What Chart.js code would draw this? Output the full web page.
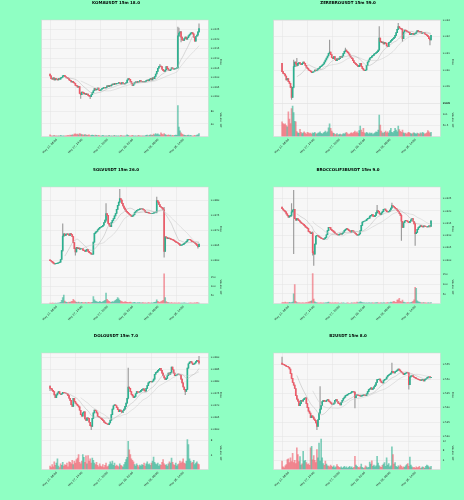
<!DOCTYPE html>
<html>
<head>
<meta charset="utf-8">
<script src="https://cdn.jsdelivr.net/npm/chart.js@4/dist/chart.umd.min.js"></script>
<style>
  body { margin: 0; width: 464px; height: 500px; background: #8fffc3; position: relative; overflow: hidden; }
  canvas { position: absolute; }
</style>
</head>
<body>
<script>
// x axis: candle index of each labelled tick and its text
const xTickIdx = [0, 24, 48, 72, 96, 120];
const xTickLabels = ['May 27, 08:00', 'May 27, 14:00', 'May 27, 20:00', 'May 28, 02:00', 'May 28, 08:00', 'May 28, 14:00'];

// ---- KOMAUSDT ----
const komaOpen0 = 0.02018;
const komaClose = [
  0.02008,0.01994,0.01991,0.01998,0.01987,0.01994,0.01991,0.01987,
  0.01994,0.01991,0.01998,0.02001,0.02008,0.02011,0.02005,0.02001,
  0.01998,0.01994,0.01987,0.01984,0.01977,0.01980,0.01973,0.01970,
  0.01959,0.01956,0.01949,0.01952,0.01917,0.01910,0.01924,0.01921,
  0.01914,0.01917,0.01910,0.01914,0.01907,0.01903,0.01900,0.01910,
  0.01921,0.01931,0.01942,0.01935,0.01938,0.01945,0.01935,0.01931,
  0.01938,0.01942,0.01945,0.01949,0.01945,0.01949,0.01956,0.01952,
  0.01959,0.01956,0.01961,0.01966,0.01963,0.01970,0.01966,0.01970,
  0.01970,0.01973,0.01970,0.01966,0.01973,0.01970,0.01966,0.01970,
  0.01973,0.01987,0.01994,0.01991,0.01980,0.01970,0.01959,0.01966,
  0.01973,0.01977,0.01973,0.01980,0.01977,0.01984,0.01980,0.01977,
  0.01980,0.01977,0.01980,0.01984,0.01987,0.01984,0.01991,0.01994,
  0.01987,0.01998,0.01994,0.02005,0.02018,0.02032,0.02048,0.02057,
  0.02060,0.02057,0.02043,0.02036,0.02032,0.02039,0.02057,0.02046,
  0.02039,0.02036,0.02043,0.02050,0.02046,0.02043,0.02046,0.02048,
  0.02050,0.02217,0.02231,0.02238,0.02210,0.02196,0.02193,0.02203,
  0.02210,0.02200,0.02207,0.02217,0.02224,0.02231,0.02234,0.02227,
  0.02210,0.02189,0.02214,0.02221,0.02238,0.02255
];
const komaVolume = [
  6,3,2,3,4,2,3,2,3,2,4,3,2,3,2,3,
  3,4,3,5,4,6,5,8,9,7,8,6,10,8,7,6,
  5,7,6,4,5,6,3,4,5,4,3,5,4,3,4,3,
  2,3,4,3,2,3,2,3,4,2,3,2,3,4,2,3,
  2,3,2,4,3,2,3,2,3,6,4,3,2,3,4,3,
  2,3,2,3,4,2,3,2,3,2,3,4,5,3,4,6,
  5,4,8,6,10,7,9,6,5,12,8,6,10,7,5,4,
  6,4,5,3,4,3,4,5,4,97,30,18,12,8,6,5,
  4,3,4,5,3,4,3,2,3,4,3,5,6,10
];
// [candle index, high, low] for the visible wicks
const komaWicks = [[29,0.01920,0.01891],[38,0.01905,0.01890],[104,0.02068,0.02055],[121,0.02262,0.02048],
  [122,0.02257,0.02212],[124,0.02240,0.02185],[141,0.02279,0.02236]];

// ---- ZEREBROUSDT ----
const zereOpen0 = 0.03018;
const zereClose = [
  0.02968,0.02958,0.02954,0.02942,0.02918,0.02926,0.02908,0.02898,
  0.02874,0.02814,0.02874,0.02998,0.03026,0.03014,0.03006,0.03018,
  0.03022,0.03014,0.03010,0.03018,0.03026,0.03018,0.03006,0.02994,
  0.02986,0.02978,0.02974,0.02970,0.02962,0.02966,0.02970,0.02978,
  0.02974,0.02978,0.02986,0.02990,0.02998,0.03002,0.03008,0.03014,
  0.03026,0.03038,0.03050,0.03062,0.03078,0.03086,0.03070,0.03054,
  0.03046,0.03058,0.03042,0.03034,0.03046,0.03042,0.03046,0.03058,
  0.03054,0.03062,0.03078,0.03090,0.03098,0.03090,0.03082,0.03074,
  0.03062,0.03054,0.03046,0.03034,0.03022,0.03018,0.03010,0.03006,
  0.02998,0.03006,0.03018,0.02998,0.02986,0.02978,0.02974,0.02978,
  0.03006,0.03026,0.03038,0.03050,0.03054,0.03062,0.03066,0.03074,
  0.03078,0.03082,0.03088,0.03098,0.03170,0.03150,0.03142,0.03146,
  0.03134,0.03142,0.03138,0.03122,0.03118,0.03142,0.03146,0.03154,
  0.03162,0.03166,0.03174,0.03186,0.03202,0.03222,0.03238,0.03230,
  0.03226,0.03222,0.03166,0.03206,0.03218,0.03214,0.03210,0.03206,
  0.03202,0.03190,0.03194,0.03198,0.03192,0.03194,0.03198,0.03206,
  0.03214,0.03210,0.03206,0.03208,0.03198,0.03202,0.03204,0.03194,
  0.03190,0.03186,0.03178,0.03166,0.03158,0.03186
];
const zereVolume = [
  68,60,55,58,50,45,113,80,60,128,139,110,70,68,23,18,
  15,33,20,14,18,22,16,12,20,18,14,16,12,18,15,20,
  14,12,16,18,22,15,12,16,20,25,18,22,40,58,38,25,
  18,15,12,10,14,8,10,12,8,10,14,12,16,20,14,10,
  12,16,18,14,20,25,18,22,15,28,48,30,20,38,18,14,
  20,16,12,18,14,16,10,14,18,22,20,30,98,53,25,18,
  15,20,25,18,22,16,28,38,20,18,24,38,30,22,48,32,
  24,20,30,18,14,16,12,18,20,16,14,12,16,18,14,12,
  16,14,12,18,14,20,16,12,14,18,28,22,16,20
];
const zereWicks = [[9,0.02880,0.02802],[11,0.03038,0.02870],[14,0.03048,0.03000],[45,0.03158,0.03076],
  [60,0.03110,0.03088],[92,0.03238,0.03095],[110,0.03258,0.03220],[114,0.03226,0.03150],[140,0.03168,0.03128]];

// ---- SOLVUSDT ----
const solvOpen0 = 0.03602;
const solvClose = [
  0.03599,0.03597,0.03594,0.03591,0.03588,0.03589,0.03590,0.03591,
  0.03592,0.03594,0.03603,0.03633,0.03681,0.03688,0.03683,0.03687,
  0.03688,0.03686,0.03683,0.03689,0.03686,0.03679,0.03659,0.03639,
  0.03628,0.03643,0.03639,0.03641,0.03637,0.03639,0.03640,0.03634,
  0.03632,0.03630,0.03634,0.03637,0.03630,0.03626,0.03624,0.03621,
  0.03621,0.03661,0.03690,0.03694,0.03697,0.03702,0.03706,0.03710,
  0.03711,0.03713,0.03717,0.03726,0.03734,0.03756,0.03750,0.03723,
  0.03717,0.03712,0.03726,0.03733,0.03739,0.03748,0.03756,0.03770,
  0.03783,0.03794,0.03806,0.03801,0.03790,0.03781,0.03774,0.03768,
  0.03763,0.03760,0.03756,0.03753,0.03750,0.03746,0.03748,0.03752,
  0.03759,0.03763,0.03767,0.03768,0.03769,0.03772,0.03771,0.03772,
  0.03770,0.03767,0.03761,0.03759,0.03760,0.03758,0.03757,0.03756,
  0.03756,0.03757,0.03758,0.03760,0.03761,0.03799,0.03794,0.03786,
  0.03779,0.03777,0.03774,0.03768,0.03630,0.03678,0.03677,0.03672,
  0.03674,0.03673,0.03671,0.03670,0.03668,0.03666,0.03663,0.03661,
  0.03659,0.03657,0.03654,0.03650,0.03651,0.03652,0.03654,0.03657,
  0.03660,0.03663,0.03668,0.03670,0.03669,0.03667,0.03663,0.03662,
  0.03660,0.03657,0.03654,0.03650,0.03646,0.03654
];
const solvVolume = [
  3,2,4,3,2,3,2,4,3,5,8,20,35,49,15,10,
  8,6,10,8,12,14,25,18,12,8,6,10,7,5,8,6,
  5,7,6,4,8,6,5,7,8,41,22,15,12,10,8,14,
  10,8,12,15,20,61,25,18,14,10,8,12,10,15,20,25,
  35,28,20,15,12,10,8,12,10,8,6,8,10,7,5,6,
  8,5,4,6,5,7,4,5,6,4,5,3,4,6,5,4,
  5,4,6,8,10,22,14,10,8,12,15,20,172,35,12,8,
  6,5,4,6,3,4,5,3,4,3,5,4,3,4,3,5,
  4,3,2,4,3,5,3,4,3,5,4,6,5,4
];
const solvWicks = [[12,0.03722,0.03630],[24,0.03640,0.03617],[53,0.03789,0.03730],[66,0.03837,0.03792],
  [101,0.03811,0.03758],[108,0.03777,0.03611],[140,0.03652,0.03641]];

// ---- BROCCOLIF3BUSDT ----
const brocOpen0 = 0.03216;
const brocClose = [
  0.03209,0.03204,0.03200,0.03196,0.03188,0.03182,0.03175,0.03179,
  0.03182,0.03196,0.03204,0.03207,0.03169,0.03162,0.03169,0.03164,
  0.03160,0.03155,0.03151,0.03148,0.03145,0.03140,0.03135,0.03132,
  0.03128,0.03117,0.03114,0.03107,0.03111,0.03030,0.03024,0.03065,
  0.03098,0.03101,0.03098,0.03094,0.03091,0.03088,0.03087,0.03084,
  0.03087,0.03092,0.03103,0.03120,0.03133,0.03132,0.03125,0.03121,
  0.03118,0.03114,0.03109,0.03106,0.03103,0.03101,0.03105,0.03107,
  0.03105,0.03109,0.03114,0.03121,0.03125,0.03128,0.03125,0.03121,
  0.03118,0.03114,0.03120,0.03118,0.03113,0.03109,0.03105,0.03101,
  0.03102,0.03106,0.03120,0.03141,0.03155,0.03158,0.03159,0.03160,
  0.03166,0.03170,0.03171,0.03179,0.03182,0.03185,0.03179,0.03177,
  0.03182,0.03193,0.03201,0.03198,0.03190,0.03185,0.03192,0.03197,
  0.03207,0.03208,0.03202,0.03197,0.03196,0.03198,0.03204,0.03212,
  0.03222,0.03219,0.03215,0.03211,0.03208,0.03202,0.03197,0.03190,
  0.03182,0.03158,0.03133,0.03152,0.03159,0.03162,0.03159,0.03155,
  0.03152,0.03158,0.03164,0.03169,0.03158,0.03147,0.03107,0.03113,
  0.03125,0.03132,0.03136,0.03140,0.03137,0.03135,0.03139,0.03137,
  0.03136,0.03135,0.03137,0.03139,0.03137,0.03160
];
const brocVolume = [
  5,6,4,8,5,6,4,7,5,6,8,50,97,12,6,5,
  4,5,3,4,5,3,4,6,5,8,10,12,14,153,24,10,
  6,5,4,3,4,5,3,4,3,5,4,6,8,5,4,3,
  4,3,5,4,3,4,3,2,4,3,4,3,2,3,4,3,
  2,3,4,3,5,4,3,8,5,6,10,8,6,4,5,3,
  4,3,5,4,3,4,5,3,4,5,6,4,3,5,4,3,
  4,5,3,4,6,5,4,8,6,10,12,8,7,18,20,27,
  12,10,18,8,6,5,4,6,5,4,6,8,12,20,84,79,
  15,10,8,6,5,4,6,5,4,3,5,4,3,6
];
const brocWicks = [[9,0.03230,0.03178],[11,0.03284,0.03026],[29,0.03115,0.03020],[30,0.03035,0.02978],
  [90,0.03223,0.03190],[104,0.03232,0.03210],[113,0.03185,0.03080],[126,0.03150,0.03060]];

// ---- DOLOUSDT ----
const doloOpen0 = 0.06778;
const doloClose = [
  0.06769,0.06767,0.06761,0.06756,0.06742,0.06731,0.06742,0.06750,
  0.06756,0.06747,0.06744,0.06747,0.06753,0.06751,0.06750,0.06749,
  0.06746,0.06739,0.06728,0.06719,0.06701,0.06694,0.06728,0.06715,
  0.06708,0.06703,0.06697,0.06692,0.06678,0.06660,0.06653,0.06667,
  0.06672,0.06642,0.06636,0.06647,0.06644,0.06628,0.06614,0.06611,
  0.06644,0.06667,0.06679,0.06676,0.06667,0.06653,0.06650,0.06647,
  0.06644,0.06639,0.06635,0.06629,0.06625,0.06622,0.06621,0.06618,
  0.06625,0.06636,0.06660,0.06683,0.06697,0.06701,0.06697,0.06689,
  0.06681,0.06672,0.06679,0.06675,0.06669,0.06676,0.06683,0.06694,
  0.06708,0.06728,0.06775,0.06769,0.06756,0.06744,0.06738,0.06731,
  0.06736,0.06747,0.06756,0.06754,0.06753,0.06756,0.06761,0.06765,
  0.06767,0.06761,0.06758,0.06769,0.06781,0.06792,0.06797,0.06799,
  0.06796,0.06800,0.06808,0.06828,0.06835,0.06838,0.06844,0.06849,
  0.06853,0.06844,0.06833,0.06822,0.06813,0.06806,0.06811,0.06822,
  0.06833,0.06829,0.06836,0.06858,0.06847,0.06833,0.06822,0.06824,
  0.06826,0.06829,0.06828,0.06825,0.06808,0.06792,0.06775,0.06764,
  0.06757,0.06765,0.06854,0.06872,0.06879,0.06881,0.06875,0.06869,
  0.06871,0.06875,0.06881,0.06886,0.06883,0.06875
];
const doloVolume = [
  1.0,0.6,1.4,0.8,2.2,1.2,1.8,3.0,1.0,0.6,1.6,1.2,2.0,1.0,1.4,1.2,
  1.8,0.8,2.2,2.0,1.6,2.6,1.4,2.4,1.8,2.8,3.2,4.2,2.0,1.6,2.4,4.2,
  3.4,2.0,3.8,1.6,3.9,2.4,3.0,1.8,3.2,2.6,1.8,1.4,2.0,1.2,0.8,1.6,
  1.0,0.8,1.4,0.6,1.2,1.8,0.8,1.0,1.4,2.2,1.6,2.4,1.2,1.8,0.9,1.3,
  1.0,0.8,1.6,1.2,1.0,0.7,1.4,2.0,2.8,3.4,7.8,5.5,4.2,3.0,2.6,2.2,
  1.4,1.0,1.6,1.2,0.8,1.3,1.0,1.4,1.2,1.8,1.0,1.6,2.2,1.4,1.6,1.2,
  1.8,2.4,3.5,2.0,1.6,1.4,1.8,1.0,1.4,1.2,2.0,2.8,1.6,1.2,1.4,1.0,
  1.6,2.2,1.8,3.2,2.0,1.4,1.2,1.8,1.0,1.4,1.6,2.4,1.8,2.2,3.0,1.8,
  1.6,2.4,8.3,6.9,3.0,2.4,1.8,2.0,2.6,1.4,1.8,2.2,1.6,1.4
];
const doloWicks = [[0,0.06781,0.06760],[39,0.06616,0.06597],[74,0.06854,0.06725],[128,0.06765,0.06743],[141,0.06903,0.06870]];

// ---- B2USDT ----
const b2Open0 = 0.5556;
const b2Close = [
  0.5552,0.5551,0.5549,0.5547,0.5544,0.5543,0.5541,0.5535,
  0.5519,0.5502,0.5488,0.5479,0.5467,0.5442,0.5430,0.5423,
  0.5407,0.5414,0.5426,0.5423,0.5428,0.5433,0.5434,0.5414,
  0.5400,0.5388,0.5381,0.5365,0.5372,0.5367,0.5360,0.5356,
  0.5347,0.5335,0.5358,0.5381,0.5395,0.5407,0.5421,0.5426,
  0.5423,0.5422,0.5426,0.5428,0.5423,0.5420,0.5416,0.5412,
  0.5412,0.5416,0.5426,0.5428,0.5422,0.5416,0.5414,0.5410,
  0.5419,0.5426,0.5433,0.5437,0.5442,0.5444,0.5447,0.5449,
  0.5450,0.5452,0.5456,0.5456,0.5454,0.5435,0.5444,0.5445,
  0.5443,0.5442,0.5440,0.5441,0.5443,0.5445,0.5444,0.5442,
  0.5448,0.5456,0.5463,0.5466,0.5469,0.5464,0.5467,0.5473,
  0.5479,0.5488,0.5498,0.5499,0.5500,0.5493,0.5488,0.5486,
  0.5495,0.5499,0.5500,0.5507,0.5512,0.5515,0.5517,0.5521,
  0.5527,0.5523,0.5521,0.5526,0.5528,0.5531,0.5535,0.5531,
  0.5527,0.5523,0.5520,0.5515,0.5519,0.5521,0.5523,0.5521,
  0.5480,0.5507,0.5511,0.5512,0.5508,0.5506,0.5504,0.5501,
  0.5500,0.5498,0.5497,0.5495,0.5497,0.5498,0.5493,0.5498,
  0.5501,0.5504,0.5507,0.5509,0.5505,0.5506
];
const b2Volume = [
  3.6,1.2,0.8,1.6,2.2,4.3,4.6,3.0,5.0,3.4,6.9,3.0,4.0,2.6,9.2,6.4,
  3.4,5.5,2.0,2.5,7.8,3.6,4.0,3.0,2.2,2.5,1.8,9.2,9.9,4.2,6.0,4.0,
  3.0,8.5,5.0,11.3,3.6,13.0,5.0,2.6,1.8,3.6,2.4,1.6,1.5,1.2,2.0,1.4,
  1.0,1.6,0.8,1.2,2.2,1.4,1.0,0.8,1.2,0.6,1.0,1.4,0.8,1.2,0.6,1.0,
  1.4,0.8,1.2,0.6,1.0,5.7,2.0,1.4,1.0,0.8,1.2,2.4,1.0,0.6,0.8,1.6,
  1.2,0.8,1.0,3.2,2.4,3.8,1.4,2.0,1.2,1.6,5.7,2.8,1.6,1.2,1.0,1.8,
  2.4,3.0,1.4,5.0,2.0,2.6,1.2,1.6,9.7,6.4,2.4,3.0,1.4,1.0,1.6,1.2,
  2.0,1.4,0.8,1.2,1.0,1.6,2.2,2.6,1.4,5.3,2.0,1.2,0.8,1.0,0.6,1.2,
  0.8,1.0,1.4,0.6,0.8,1.2,1.0,0.6,1.4,2.0,1.6,1.2,0.8,1.4
];
const b2Wicks = [[0,0.5577,0.5550],[33,0.5350,0.5323],[36,0.5474,0.5380],[69,0.5456,0.5399],
  [104,0.5556,0.5520],[120,0.5523,0.5465]];

const mavWindows = [15, 30];

const panels = [
  { title: 'KOMAUSDT 15m 18.0', open0: komaOpen0, close: komaClose, volume: komaVolume, wicks: komaWicks,
    price: { min: 0.018652, max: 0.022995, step: 0.0005, dec: 4 }, vol: { max: 104, step: 20 }, left: 0, top: 0 },
  { title: 'ZEREBROUSDT 15m 59.0', open0: zereOpen0, close: zereClose, volume: zereVolume, wicks: zereWicks,
    price: { min: 0.02778, max: 0.03278, step: 0.001, dec: 3 }, vol: { max: 151.5, step: 50 }, left: 232, top: 0 },
  { title: 'SOLVUSDT 15m 26.0', open0: solvOpen0, close: solvClose, volume: solvVolume, wicks: solvWicks,
    price: { min: 0.035667, max: 0.038444, step: 0.0005, dec: 4 }, vol: { max: 192, step: 50 }, left: 0, top: 167 },
  { title: 'BROCCOLIF3BUSDT 15m 9.0', open0: brocOpen0, close: brocClose, volume: brocVolume, wicks: brocWicks,
    price: { min: 0.029579, max: 0.032976, step: 0.0005, dec: 4 }, vol: { max: 170, step: 50 }, left: 232, top: 167 },
  { title: 'DOLOUSDT 15m 7.0', open0: doloOpen0, close: doloClose, volume: doloVolume, wicks: doloWicks,
    price: { min: 0.065694, max: 0.069167, step: 0.0005, dec: 4 }, vol: { max: 9.2, step: 2 }, left: 0, top: 333 },
  { title: 'B2USDT 15m 8.0', open0: b2Open0, close: b2Close, volume: b2Volume, wicks: b2Wicks,
    price: { min: 0.5300, max: 0.55908, step: 0.005, dec: 3 }, vol: { max: 14.1, step: 2 }, left: 232, top: 333 }
];

const UP = '#2bb190', DOWN = '#ef5a68';
const UP_VOL = 'rgba(43,177,144,0.6)', DOWN_VOL = 'rgba(239,90,104,0.6)';
const FONT = "'DejaVu Sans'";
const GRID = { color: '#e2e2e2', lineWidth: 0.5, drawTicks: false };

const sma = (arr, n) => arr.map((_, i) => ({
  x: i,
  y: i < n - 1 ? null : arr.slice(i - n + 1, i + 1).reduce((a, b) => a + b, 0) / n
}));

// plot background, frame and panel title
const frame = {
  id: 'frame',
  beforeDraw(chart) {
    const { ctx, chartArea: a } = chart;
    ctx.save();
    ctx.fillStyle = '#f7f7f7';
    ctx.fillRect(a.left, a.top, a.width, a.height);
    ctx.restore();
  },
  afterDraw(chart, args, opts) {
    const { ctx, chartArea: a } = chart;
    ctx.save();
    ctx.strokeStyle = '#d4d4d4';
    ctx.lineWidth = 0.5;
    ctx.strokeRect(a.left, a.top, a.width, a.height);
    ctx.font = 'bold 4px ' + FONT;
    ctx.fillStyle = '#000';
    ctx.textAlign = 'center';
    ctx.textBaseline = 'middle';
    ctx.fillText(opts.text, 116, 3.4);
    ctx.restore();
  }
};

panels.forEach(p => {
  const canvas = document.createElement('canvas');
  canvas.width = 232;
  canvas.height = 167;
  canvas.style.left = p.left + 'px';
  canvas.style.top = p.top + 'px';
  document.body.appendChild(canvas);

  const body = [], wick = [], vol = [], bodyCol = [], volCol = [];
  p.close.forEach((c, i) => {
    const o = i === 0 ? p.open0 : p.close[i - 1];
    const up = c >= o;
    const w = p.wicks.find(k => k[0] === i);
    body.push({ x: i, y: [o, c] });
    wick.push({ x: i, y: w ? [w[2], w[1]] : [Math.min(o, c), Math.max(o, c)] });
    vol.push({ x: i, y: p.volume[i] });
    bodyCol.push(up ? UP : DOWN);
    volCol.push(up ? UP_VOL : DOWN_VOL);
  });

  new Chart(canvas, {
    type: 'bar',
    data: {
      datasets: [
        { type: 'line', data: sma(p.close, mavWindows[0]), yAxisID: 'y', borderColor: '#b4b4b4', borderWidth: 0.5, pointRadius: 0 },
        { type: 'line', data: sma(p.close, mavWindows[1]), yAxisID: 'y', borderColor: '#c9c9c9', borderWidth: 0.5, pointRadius: 0 },
        { data: body, yAxisID: 'y', backgroundColor: bodyCol, barThickness: 1, grouped: false },
        { data: wick, yAxisID: 'y', backgroundColor: '#9c9c9c', barThickness: 0.5, grouped: false },
        { data: vol, yAxisID: 'yv', backgroundColor: volCol, barThickness: 1, grouped: false }
      ]
    },
    options: {
      responsive: false,
      animation: false,
      events: [],
      layout: { padding: { left: 41.7, top: 20, right: 9.8, bottom: 13.3 } },
      plugins: { legend: { display: false }, tooltip: { enabled: false }, frame: { text: p.title } },
      scales: {
        x: {
          type: 'linear', min: -7.9, max: 149.8, offset: false,
          grid: { ...GRID, offset: false }, border: { display: false },
          afterBuildTicks: s => { s.ticks = xTickIdx.map(v => ({ value: v })); },
          afterFit: s => { s.height = 17; },
          ticks: {
            autoSkip: false, minRotation: 45, maxRotation: 45, padding: 1.5, labelOffset: 6.7,
            font: { size: 2.7, family: FONT }, color: '#222',
            callback: (v, i) => xTickLabels[i]
          }
        },
        y: {
          position: 'right', stack: 'p', stackWeight: 5, beginAtZero: false,
          min: p.price.min, max: p.price.max,
          grid: GRID, border: { display: false },
          afterFit: s => { s.width = 13.9; },
          ticks: {
            stepSize: p.price.step, includeBounds: false, padding: 2.4,
            font: { size: 2.5, family: FONT }, color: '#222',
            callback: v => v.toFixed(p.price.dec)
          },
          title: { display: true, text: 'Price', padding: 0, font: { size: 2.5, family: FONT }, color: '#222' }
        },
        yv: {
          position: 'right', stack: 'p', stackWeight: 2,
          min: 0, max: p.vol.max,
          grid: GRID, border: { display: false },
          afterFit: s => { s.width = 13.9; },
          ticks: {
            stepSize: p.vol.step, includeBounds: false, padding: 2.4,
            font: { size: 2.5, family: FONT }, color: '#222',
            callback: v => (v === 0 ? '' : v)
          },
          title: { display: true, text: 'Volume  10\u2076', padding: 0, font: { size: 2.5, family: FONT }, color: '#222' }
        }
      }
    },
    plugins: [frame]
  });
});
</script>
</body>
</html>
